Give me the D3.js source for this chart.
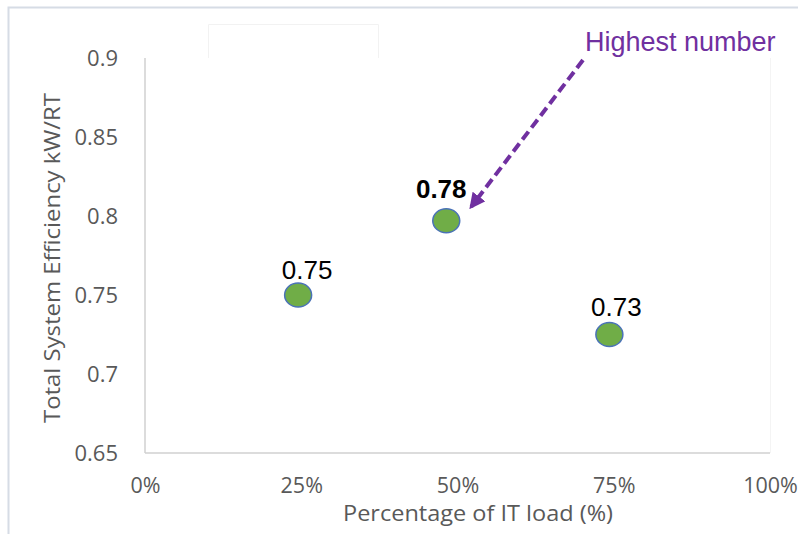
<!DOCTYPE html>
<html><head><meta charset="utf-8">
<script src="https://cdn.jsdelivr.net/npm/d3@7"></script>
<style>body{margin:0;background:#fff}svg{display:block}</style>
</head><body>
<svg id="c" width="798" height="534"></svg>
<script>
const loadPct = [0.245, 0.482, 0.743];
const efficiency = [0.75, 0.797, 0.725];
const pointLabels = ["0.75", "0.78", "0.73"];
const labelBold = [false, true, false];
const yTicks = [0.65, 0.7, 0.75, 0.8, 0.85, 0.9];
const xTicks = [0, 0.25, 0.5, 0.75, 1];
const xTitle = "Percentage of IT load (%)";
const yTitle = "Total System Efficiency kW/RT";
const annotation = "Highest number";

const svg = d3.select("#c");
const x = d3.scaleLinear().domain([0, 1]).range([145, 770]);
const y = d3.scaleLinear().domain([0.65, 0.9]).range([453, 58]);
const tickFont = "'Open Sans', Lato, sans-serif";
const gray = "#595959";

// outer frame
svg.append("path").attr("d", "M8.5,534 V7.5 H798").attr("fill", "none").attr("stroke", "#d6dce5").attr("stroke-width", 2);
// faint boxes
svg.append("path").attr("d", "M208.5,58 V24.5 H378.5 V58").attr("fill", "none").attr("stroke", "#f2f2f2").attr("stroke-width", 1);
svg.append("line").attr("x1", 770.5).attr("x2", 770.5).attr("y1", 58).attr("y2", 453).attr("stroke", "#f4f4f4");

// axes
const gx = svg.append("g").attr("transform", "translate(0,453)")
  .call(d3.axisBottom(x).tickValues(xTicks).tickFormat(d3.format(".0%")).tickSize(0));
gx.select(".domain").attr("stroke", "#d0d0d0").attr("stroke-width", 1.5).attr("d", `M${x(0)},0H${x(1)}`);
gx.selectAll("text").attr("y", 40).attr("dy", null).attr("font-family", tickFont).attr("font-size", 21.5).attr("fill", gray);

const gy = svg.append("g").attr("transform", "translate(145,0)")
  .call(d3.axisLeft(y).tickValues(yTicks).tickFormat(d => String(+d.toFixed(2))).tickSize(0).tickPadding(27));
gy.select(".domain").attr("stroke", "#d0d0d0").attr("stroke-width", 1.5).attr("d", `M0,${y(0.9)}V${y(0.65)}`);
gy.selectAll("text").attr("font-family", tickFont).attr("font-size", 22).attr("fill", gray);

// axis titles
svg.append("text").attr("x", 478).attr("y", 521).attr("text-anchor", "middle")
  .attr("font-family", tickFont).attr("font-size", 21).attr("fill", gray)
  .attr("textLength", 270).attr("lengthAdjust", "spacingAndGlyphs").text(xTitle);
svg.append("text").attr("transform", "translate(60,258) rotate(-90)").attr("text-anchor", "middle")
  .attr("font-family", tickFont).attr("font-size", 22.5).attr("fill", gray)
  .attr("textLength", 330).attr("lengthAdjust", "spacingAndGlyphs").text(yTitle);

// points
const labelDx = [9, -5, 7];
const labelDy = [-16, -23, -19];
const data = loadPct.map((v, i) => ({x: v, y: efficiency[i], label: pointLabels[i], bold: labelBold[i], dx: labelDx[i], dy: labelDy[i]}));
svg.selectAll("ellipse.pt").data(data).join("ellipse").attr("class", "pt")
  .attr("cx", d => x(d.x)).attr("cy", d => y(d.y)).attr("rx", 13.5).attr("ry", 12)
  .attr("fill", "#70ad47").attr("stroke", "#4a72b8").attr("stroke-width", 1.5);
svg.selectAll("text.lbl").data(data).join("text").attr("class", "lbl")
  .attr("x", d => x(d.x) + d.dx).attr("y", d => y(d.y) + d.dy).attr("text-anchor", "middle")
  .attr("font-family", "'Liberation Sans', Arial, sans-serif").attr("font-size", 26)
  .attr("font-weight", d => d.bold ? "bold" : "normal").attr("fill", "#000").text(d => d.label);

// annotation
const purple = "#7030a0";
svg.append("defs").append("marker").attr("id", "ah").attr("viewBox", "0 0 10 10")
  .attr("refX", 8).attr("refY", 5).attr("markerWidth", 4).attr("markerHeight", 4).attr("orient", "auto")
  .attr("markerUnits", "strokeWidth")
  .append("path").attr("d", "M0,0 L10,5 L0,10 z").attr("fill", purple);
const peak = data[1];
svg.append("line").attr("x1", 583).attr("y1", 60).attr("x2", x(peak.x) + 25).attr("y2", y(peak.y) - 14)
  .attr("stroke", purple).attr("stroke-width", 4).attr("stroke-dasharray", "10,5").attr("marker-end", "url(#ah)");
svg.append("text").attr("x", 585).attr("y", 51).attr("font-family", "'Liberation Sans', Arial, sans-serif")
  .attr("font-size", 27).attr("fill", purple).text(annotation);
</script>
</body></html>
